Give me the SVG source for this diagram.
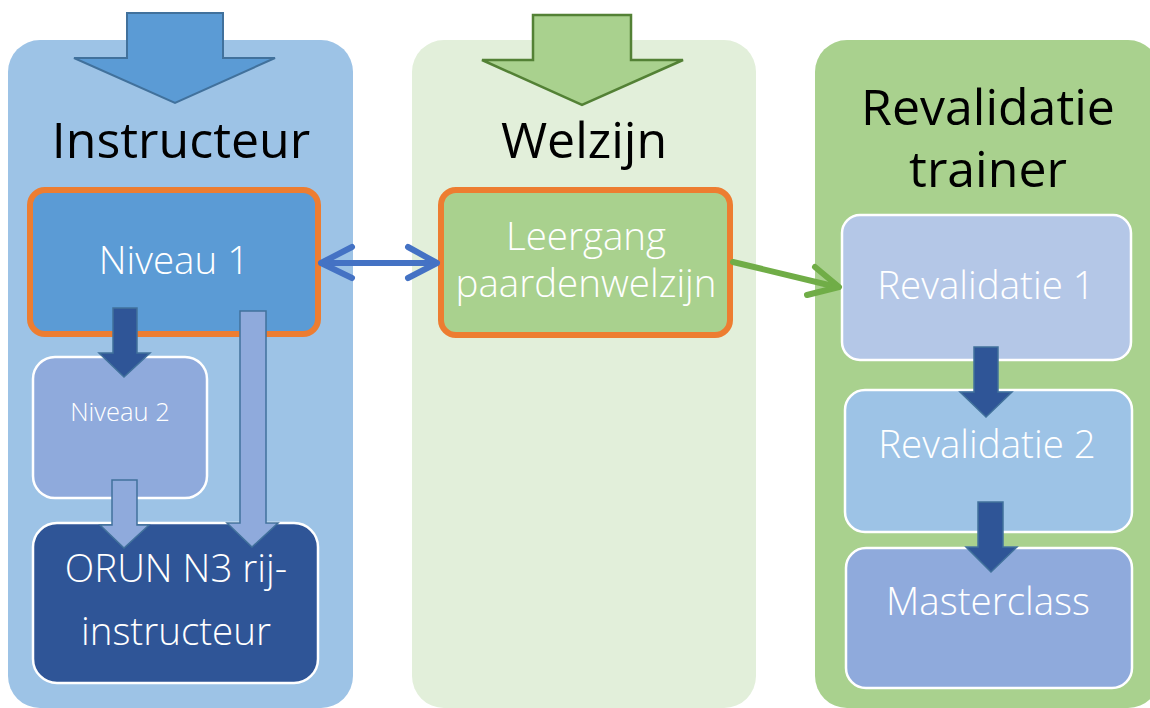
<svg xmlns="http://www.w3.org/2000/svg" width="1150" height="708" viewBox="0 0 1150 708">
<style>
.t{font-family:"Open Sans","Noto Sans","Liberation Sans",sans-serif;text-anchor:middle}
.title{font-size:50px;fill:#000}
.lbl{font-size:38.5px;fill:#fff;font-weight:300}
.sm{font-size:25.5px;fill:#fff;font-weight:300}
.node{stroke:#fff;stroke-width:2.5}
.hl{stroke:#ED7D31;stroke-width:6}
.blk{stroke:#41719C;stroke-width:1.5}
</style>
<rect width="1150" height="708" fill="#fff"/>
<g id="col-instructeur">
<rect x="8" y="40" width="345" height="668" rx="32" fill="#9DC3E6"/>
<polygon points="127,13 223,13 223,58 275,58 175,103 74,58 127,58" fill="#5B9BD5" stroke="#41719C" stroke-width="2"/>
<text class="t title" x="181" y="158">Instructeur</text>
</g>
<g id="col-welzijn">
<rect x="412" y="40" width="344" height="668" rx="32" fill="#E2EFDA"/>
<polygon points="533,15 631,15 631,60 683,60 582,105 482,60 533,60" fill="#A9D18E" stroke="#538135" stroke-width="2.5"/>
<text class="t title" x="584" y="158">Welzijn</text>
</g>
<g id="col-revalidatie">
<rect x="815" y="40" width="345" height="668" rx="32" fill="#A9D18E"/>
<text class="t title" x="988" y="125">Revalidatie</text>
<text class="t title" x="988" y="187">trainer</text>
</g>
<g id="niveau1">
<rect class="hl" x="30" y="190" width="288" height="144" rx="15" fill="#5B9BD5"/>
<text class="t lbl" x="174" y="274">Niveau 1</text>
</g>
<g id="niveau2">
<rect class="node" x="33" y="357" width="174" height="141" rx="22" fill="#8FAADC"/>
<text class="t sm" x="120" y="421">Niveau 2</text>
</g>
<g id="orun">
<rect class="node" x="33" y="523" width="285" height="160" rx="24" fill="#2F5597"/>
<text class="t lbl" x="176" y="582">ORUN N3 rij-</text>
<text class="t lbl" x="176" y="645">instructeur</text>
</g>
<g id="leergang">
<rect class="hl" x="441" y="190" width="289" height="145" rx="15" fill="#A9D18E"/>
<text class="t lbl" x="586" y="250">Leergang</text>
<text class="t lbl" x="586" y="297">paardenwelzijn</text>
</g>
<g id="revalidatie1">
<rect class="node" x="842" y="215" width="289" height="145" rx="18" fill="#B4C7E7"/>
<text class="t lbl" x="986" y="299">Revalidatie 1</text>
</g>
<g id="revalidatie2">
<rect class="node" x="845" y="390" width="287" height="142" rx="20" fill="#9DC3E6"/>
<text class="t lbl" x="987" y="458">Revalidatie 2</text>
</g>
<g id="masterclass">
<rect class="node" x="846" y="548" width="286" height="140" rx="20" fill="#8FAADC"/>
<text class="t lbl" x="988" y="615">Masterclass</text>
</g>
<g id="connectors">
<polygon class="blk" points="113,308 137,308 137,353 150,353 124,377 99,353 113,353" fill="#2F5597"/>
<polygon class="blk" points="112,480 137,480 137,525 149,525 124,548 100,525 112,525" fill="#8FAADC"/>
<polygon class="blk" points="240,311 266,311 266,523 278,523 252,547 227,523 240,523" fill="#8FAADC"/>
<polygon class="blk" points="974,347 998,347 998,392 1012,392 986,417 960,392 974,392" fill="#2F5597"/>
<polygon class="blk" points="978,502 1003,502 1003,547 1017,547 991,572 966,547 978,547" fill="#2F5597"/>
<g fill="none" stroke="#4472C4" stroke-width="6" stroke-linecap="round" stroke-linejoin="round">
<line x1="322" y1="263" x2="436" y2="263"/>
<polyline points="352,247 321,263 352,278"/>
<polyline points="408,247 437,263 408,278"/>
</g>
<g fill="none" stroke="#70AD47" stroke-width="6" stroke-linecap="round" stroke-linejoin="round">
<line x1="733" y1="262" x2="837" y2="287"/>
<polyline points="815,267 839,287 807,295"/>
</g>
</g>
</svg>
